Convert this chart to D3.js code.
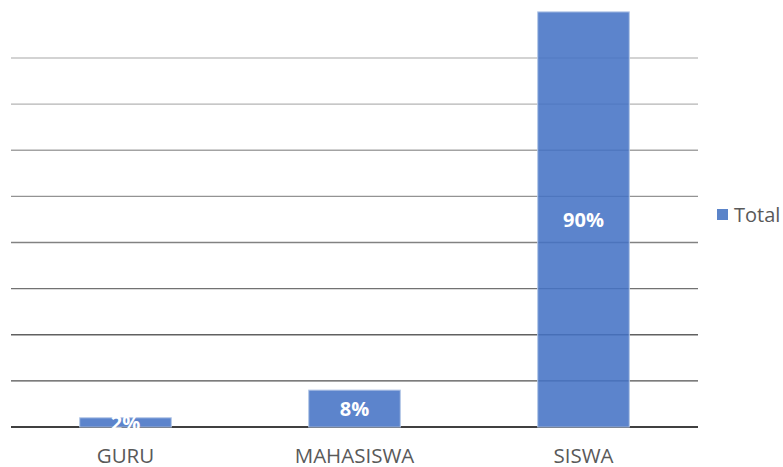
<!DOCTYPE html>
<html lang="id">
<head>
<meta charset="UTF-8">
<title>Total</title>
<script src="https://d3js.org/d3.v7.min.js"></script>
<style>
  body { margin: 0; background: #fff; }
  svg { display: block; font-family: "Open Sans", "Liberation Sans", sans-serif; }
</style>
</head>
<body>
<svg width="783" height="467"></svg>
<script>
const categories = ["GURU", "MAHASISWA", "SISWA"];
const totals = [2, 8, 90];
const gridValues = [0, 10, 20, 30, 40, 50, 60, 70, 80];
const seriesName = "Total";

const plotLeft = 11, plotRight = 698, plotTop = 58, plotBottom = 427;
const svg = d3.select("svg");

const x = d3.scaleBand().domain(categories).range([plotLeft, plotRight]).paddingInner(0.6).paddingOuter(0.3);
const y = d3.scaleLinear().domain([0, 80]).range([plotBottom, plotTop]);
const gridColor = d3.scaleLinear().domain([80, 0]).range(["#c4c4c4", "#404040"]);

// gridlines
svg.append("g").selectAll("line").data(gridValues).join("line")
  .attr("x1", plotLeft).attr("x2", plotRight)
  .attr("y1", d => y(d)).attr("y2", d => y(d))
  .attr("stroke", d => gridColor(d))
  .attr("stroke-width", d => d === 0 ? 2 : 1.3);

// bars
svg.append("g").selectAll("rect").data(totals).join("rect")
  .attr("x", (d, i) => x(categories[i]))
  .attr("width", x.bandwidth())
  .attr("y", d => y(d))
  .attr("height", d => y(0) - y(d))
  .attr("fill", "#4472c4")
  .attr("fill-opacity", 0.87)
  .attr("stroke", "#b4c7e7")
  .attr("stroke-width", 1);

// value labels
svg.append("g").selectAll("text").data(totals).join("text")
  .attr("x", (d, i) => x(categories[i]) + x.bandwidth() / 2)
  .attr("y", d => (y(d) + y(0)) / 2)
  .attr("dy", "0.36em")
  .attr("text-anchor", "middle")
  .attr("fill", "#fff")
  .attr("font-size", 20)
  .attr("font-weight", "bold")
  .text(d => d + "%");

// category axis labels
svg.append("g").selectAll("text").data(categories).join("text")
  .attr("x", d => x(d) + x.bandwidth() / 2)
  .attr("y", 463)
  .attr("text-anchor", "middle")
  .attr("fill", "#595959")
  .attr("font-size", 20.5)
  .text(d => d);

// legend
const legend = svg.append("g").attr("transform", "translate(717,215)");
legend.append("rect").attr("x", 0).attr("y", -6).attr("width", 11).attr("height", 11).attr("fill", "#5b84c9");
legend.append("text").attr("x", 17).attr("y", 0).attr("dy", "0.36em")
  .attr("fill", "#595959").attr("font-size", 20).text(seriesName);
</script>
</body>
</html>
